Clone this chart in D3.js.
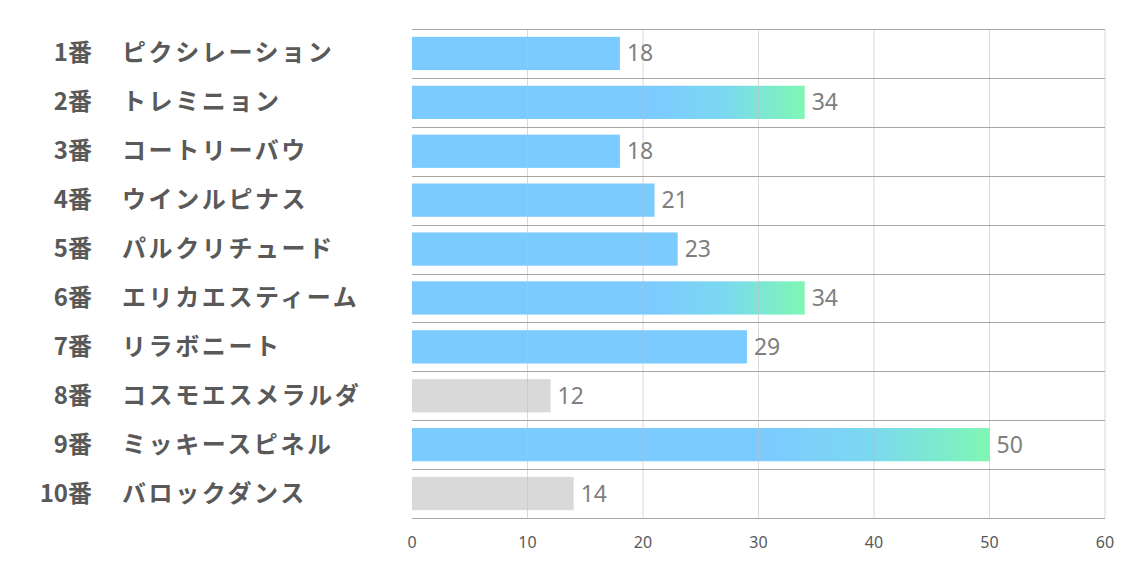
<!DOCTYPE html>
<html>
<head>
<meta charset="utf-8">
<script src="https://cdn.jsdelivr.net/npm/d3@7"></script>
<style>
  body { margin: 0; background: #fff; }
  text { font-family: "Noto Sans CJK JP", "Noto Sans", sans-serif; }
</style>
</head>
<body>
<svg id="chart" width="1134" height="567"></svg>
<script>
// Horse numbers, names and values
var numbers = ['1', '2', '3', '4', '5', '6', '7', '8', '9', '10'];
var names = ['ピクシレーション', 'トレミニョン', 'コートリーバウ', 'ウインルピナス', 'パルクリチュード',
    'エリカエスティーム', 'リラボニート', 'コスモエスメラルダ', 'ミッキースピネル', 'バロックダンス'];
var values = [18, 34, 18, 21, 23, 34, 29, 12, 50, 14];
// bar style: 'blue', 'grad' (blue to green), 'gray'
var kinds = ['blue', 'grad', 'blue', 'blue', 'blue', 'grad', 'blue', 'gray', 'grad', 'gray'];
var xTicks = [0, 10, 20, 30, 40, 50, 60];

var svg = d3.select('#chart');

var plot = { l: 412, r: 1105, t: 29, b: 518 };

var xScale = d3.scaleLinear().domain([0, 60]).range([plot.l, plot.r]);
var yScale = d3.scaleBand().domain(numbers).range([plot.t, plot.b]).paddingInner(0.32).paddingOuter(0.16);

// Gradient for highlighted bars
var defs = svg.append('defs');
var grad = defs.append('linearGradient').attr('id', 'grad')
    .attr('x1', '0%').attr('x2', '100%').attr('y1', '0%').attr('y2', '0%');
grad.append('stop').attr('offset', '0%').attr('stop-color', '#7ccbff');
grad.append('stop').attr('offset', '62%').attr('stop-color', '#7ccbff');
grad.append('stop').attr('offset', '80%').attr('stop-color', '#7bd9ef');
grad.append('stop').attr('offset', '100%').attr('stop-color', '#7ff7b3');

var colors = { blue: '#7ccbff', grad: 'url(#grad)', gray: '#d9d9d9' };

var data = numbers.map(function (n, i) {
    return { num: n, name: names[i], value: values[i], kind: kinds[i] };
});

// Bars
svg.selectAll('.bar')
    .data(data)
    .enter()
    .append('rect')
    .attr('class', 'bar')
    .attr('x', xScale(0))
    .attr('y', d => yScale(d.num))
    .attr('width', d => xScale(d.value) - xScale(0))
    .attr('height', yScale.bandwidth())
    .attr('fill', d => colors[d.kind]);

// Vertical grid lines (drawn over bars, light)
svg.selectAll('.vgrid')
    .data(xTicks.slice(1))
    .enter()
    .append('line')
    .attr('class', 'vgrid')
    .attr('x1', d => xScale(d)).attr('x2', d => xScale(d))
    .attr('y1', plot.t).attr('y2', plot.b)
    .attr('stroke', '#bfbfbf')
    .attr('stroke-opacity', 0.6)
    .attr('stroke-width', 1);

// Horizontal row lines
var rowEdges = d3.range(numbers.length + 1).map(i => plot.t + i * (plot.b - plot.t) / numbers.length);
svg.selectAll('.hgrid')
    .data(rowEdges)
    .enter()
    .append('line')
    .attr('class', 'hgrid')
    .attr('x1', plot.l).attr('x2', plot.r)
    .attr('y1', d => Math.round(d) + 0.5).attr('y2', d => Math.round(d) + 0.5)
    .attr('stroke', '#a6a6a6')
    .attr('stroke-width', 1);

// Value labels
svg.selectAll('.val')
    .data(data)
    .enter()
    .append('text')
    .attr('class', 'val')
    .attr('x', d => xScale(d.value) + 7)
    .attr('y', d => yScale(d.num) + yScale.bandwidth() / 2 + 8)
    .attr('fill', '#7f7f7f')
    .attr('font-size', 23)
    .style('font-family', '"Noto Sans", sans-serif')
    .text(d => d.value);

// Category labels: number right aligned, then 番 and name
var labels = svg.selectAll('.cat')
    .data(data)
    .enter()
    .append('g')
    .attr('class', 'cat')
    .attr('transform', d => 'translate(0,' + (yScale(d.num) + yScale.bandwidth() / 2 + 8) + ')');

labels.append('text')
    .attr('x', 68)
    .attr('text-anchor', 'end')
    .attr('font-size', 24)
    .attr('font-weight', 'bold')
    .attr('fill', '#595959')
    .text(d => d.num);

labels.append('text')
    .attr('x', 68)
    .attr('font-size', 24)
    .attr('font-weight', 'bold')
    .attr('fill', '#595959')
    .text('番');

labels.append('text')
    .attr('x', 122)
    .attr('font-size', 24)
    .attr('font-weight', 'bold')
    .attr('fill', '#595959')
    .attr('letter-spacing', 2.6)
    .text(d => d.name);

// Bottom axis tick labels
svg.selectAll('.tick-label')
    .data(xTicks)
    .enter()
    .append('text')
    .attr('class', 'tick-label')
    .attr('x', d => xScale(d))
    .attr('y', 548)
    .attr('text-anchor', 'middle')
    .attr('font-size', 16)
    .attr('fill', '#595959')
    .style('font-family', '"Noto Sans", sans-serif')
    .text(d => d);
</script>
</body>
</html>
